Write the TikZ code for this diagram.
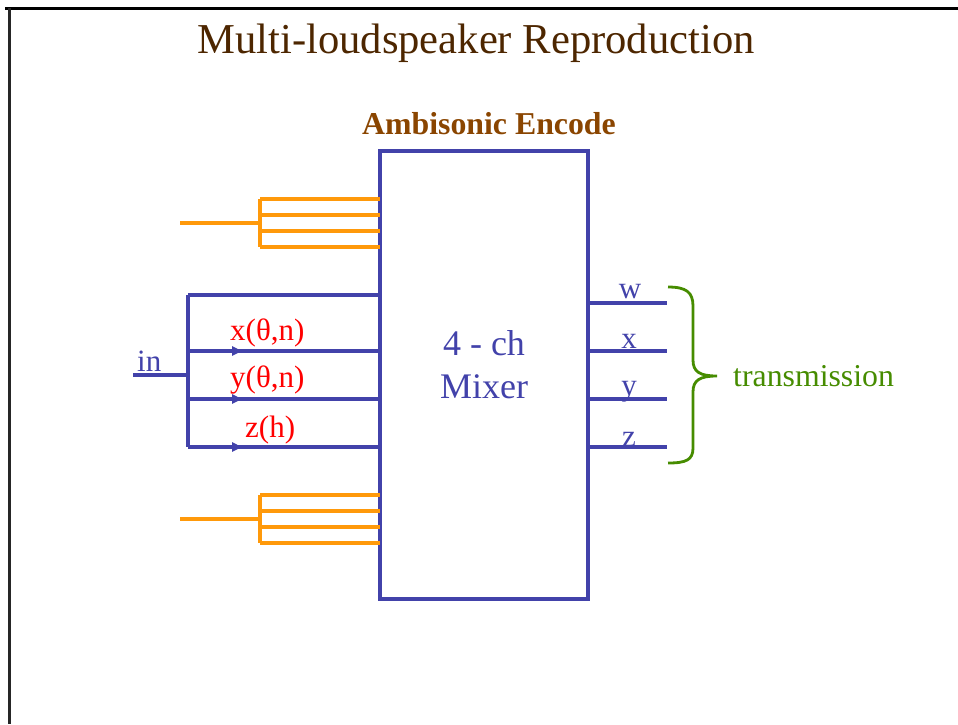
\documentclass[tikz,border=0pt]{standalone}
\usepackage{fontspec}
\setmainfont{Liberation Serif}
\usetikzlibrary{arrows.meta,calc}
\definecolor{mixblue}{RGB}{66,66,170}
\definecolor{titlebrown}{RGB}{77,38,0}
\definecolor{encbrown}{RGB}{138,69,0}
\definecolor{feedorange}{RGB}{255,153,10}
\definecolor{txgreen}{RGB}{70,140,0}
\tikzset{
  bluewire/.style={draw=mixblue,line width=3.6pt},
  orangewire/.style={draw=feedorange,line width=3.3pt},
  lbl/.style={anchor=base,inner sep=0pt,font=\fontsize{31}{31}\selectfont},
  redlbl/.style={lbl,text=red,anchor=base west},
  bluelbl/.style={lbl,text=mixblue},
  tip/.style={-{Triangle[length=10pt,width=9pt]}},
}
\begin{document}
\begin{tikzpicture}[x=1pt,y=-1pt]
\useasboundingbox (0,0) rectangle (958,724);
% slide frame
\draw[line width=3pt,black] (5,8) -- (958,8);
\draw[line width=2.5pt,black!85] (9.5,8) -- (9.5,724);
% titles
\node[anchor=base,inner sep=0pt,text=titlebrown,font=\fontsize{42.6}{42.6}\selectfont] (title) at (476,53) {Multi-loudspeaker Reproduction};
\node[anchor=base,inner sep=0pt,text=encbrown,font=\bfseries\fontsize{31.8}{31.8}\selectfont] (enc) at (489,134) {Ambisonic Encode};
% mixer box
\node[bluewire,rectangle,minimum width=208pt,minimum height=448pt,inner sep=0pt,outer sep=0pt,anchor=north west] (mixer) at (380,151) {};
\node[bluelbl,font=\fontsize{36}{36}\selectfont] (mixa) at (484,355) {4 - ch};
\node[bluelbl,font=\fontsize{36}{36}\selectfont] (mixb) at (484,398) {Mixer};
% orange feeds, top
\coordinate (of1) at (180,223);
\coordinate (ob1) at (260,223);
\coordinate (oa1) at (260,199);
\coordinate (oa2) at (260,215);
\coordinate (oa3) at (260,231);
\coordinate (oa4) at (260,247);
\draw[orangewire] (of1) -- (ob1);
\draw[orangewire] (oa1) -- (oa4);
\foreach \c in {oa1,oa2,oa3,oa4}{\draw[orangewire] (\c) -- (\c -| mixer.west);}
% orange feeds, bottom
\coordinate (of2) at (180,519);
\coordinate (ob2) at (260,519);
\coordinate (oc1) at (260,495);
\coordinate (oc2) at (260,511);
\coordinate (oc3) at (260,527);
\coordinate (oc4) at (260,543);
\draw[orangewire] (of2) -- (ob2);
\draw[orangewire] (oc1) -- (oc4);
\foreach \c in {oc1,oc2,oc3,oc4}{\draw[orangewire] (\c) -- (\c -| mixer.west);}
% blue input bus
\coordinate (inend) at (133,375);
\coordinate (bus0) at (188,375);
\coordinate (b1) at (188,295);
\coordinate (b2) at (188,351);
\coordinate (b3) at (188,399);
\coordinate (b4) at (188,447);
\draw[bluewire] (inend) -- (bus0);
\draw[bluewire] (b1) -- (b4);
\draw[bluewire] (b1) -- (b1 -| mixer.west);
\foreach \c in {b2,b3,b4}{
  \draw[bluewire] (\c) -- (\c -| mixer.west);
  \draw[bluewire,tip] (\c) -- ($(\c)+(54,0)$);
}
\node[bluelbl,anchor=base west] (inlbl) at (137,371) {in};
\node[redlbl] (lx) at (230,340) {x(θ,n)};
\node[redlbl] (ly) at (230,387) {y(θ,n)};
\node[redlbl] (lz) at (245,437) {z(h)};
% outputs
\foreach \y/\n in {303/w,351/x,399/y,447/z}{
  \coordinate (o\n) at (667,\y);
  \draw[bluewire] (o\n -| mixer.east) -- (o\n);
}
\node[bluelbl] (lw) at (630,298) {w};
\node[bluelbl] (lxo) at (629,348) {x};
\node[bluelbl] (lyo) at (629,395) {y};
\node[bluelbl] (lzo) at (629,446) {z};
% brace
\coordinate (brtop) at (668,287);
\coordinate (brtip) at (717,376);
\coordinate (brbot) at (668,463);
\draw[txgreen,line width=2.8pt] (brtop) .. controls (686,287) and (693,292) .. (693,306) -- (693,360) .. controls (693,372) and (700,376) .. (brtip) .. controls (700,376) and (693,380) .. (693,392) -- (693,448) .. controls (693,460) and (686,463) .. (brbot);
\node[lbl,text=txgreen,anchor=base west,font=\fontsize{31.8}{31.8}\selectfont] (tx) at (733,386) {transmission};
\end{tikzpicture}
\end{document}
